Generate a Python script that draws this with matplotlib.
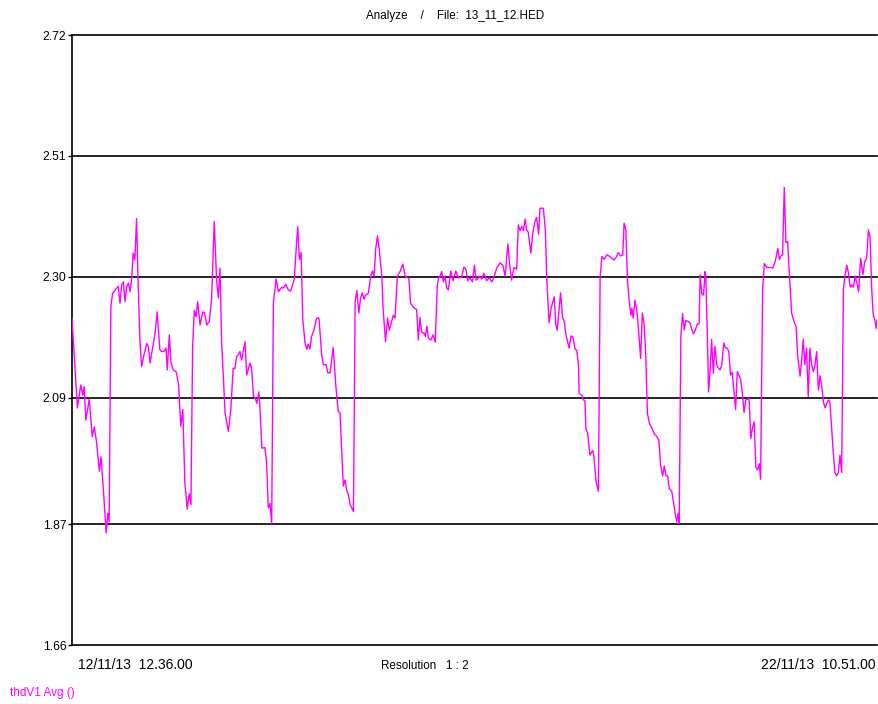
import matplotlib
matplotlib.use("Agg")
import matplotlib.pyplot as plt
import numpy as np

plt.rcParams["font.family"] = ["Liberation Sans", "DejaVu Sans"]

# hours since 12/11/13 12.36.00 (end 22/11/13 10.51.00 = 238.25 h)
hours = [
    0.0, 1.6, 2.6, 3.2, 3.6, 4.1, 5.1, 6.0, 6.6, 7.3, 8.1, 8.6, 9.3, 10.1, 10.6, 11.0,
    11.5, 12.0, 13.2, 13.7, 14.2, 14.7, 15.2, 15.7, 16.2, 16.7, 17.2, 17.7, 18.1, 18.6,
    19.1, 19.6, 20.1, 20.6, 21.3, 22.1, 22.6, 23.1, 23.9, 24.6, 25.2, 26.0, 26.5, 27.2,
    27.8, 28.2, 28.8, 29.3, 30.0, 30.8, 31.5, 32.2, 32.8, 33.4, 34.1, 34.7, 35.2, 35.7,
    36.2, 36.7, 37.2, 37.9, 38.7, 39.2, 39.9, 40.6, 41.3, 42.1, 42.8, 43.3, 43.8, 44.3,
    44.6, 45.3, 46.3, 47.0, 47.7, 48.2, 48.7, 49.2, 49.7, 50.2, 51.2, 51.7, 52.7, 53.2,
    53.7, 54.2, 54.7, 55.3, 55.6, 56.2, 57.1, 57.6, 58.1, 58.6, 59.1, 59.6, 60.4, 61.1,
    62.1, 62.5, 63.3, 64.0, 64.7, 65.8, 66.2, 66.8, 67.3, 67.8, 68.3, 69.0, 69.5, 69.9,
    70.4, 70.9, 71.6, 72.4, 73.1, 73.9, 74.4, 75.2, 75.7, 76.4, 77.3, 78.1, 78.8, 79.3,
    80.3, 80.8, 81.3, 81.8, 82.3, 83.3, 83.8, 84.3, 84.9, 85.4, 85.9, 86.4, 86.9, 87.7,
    88.4, 88.9, 89.4, 89.9, 90.4, 90.9, 91.7, 92.1, 92.8, 93.4, 93.9, 94.6, 95.1, 95.6,
    96.3, 97.1, 97.9, 98.6, 99.7, 100.2, 101.0, 102.0, 102.5, 103.0, 103.5, 104.2, 104.6,
    105.0, 105.5, 106.2, 106.9, 107.5, 108.1, 108.5, 108.9, 109.4, 109.9, 110.4, 110.9,
    111.4, 112.1, 112.8, 113.6, 114.3, 115.3, 116.0, 116.6, 117.1, 117.8, 118.5, 119.1,
    119.6, 120.1, 120.5, 121.3, 121.9, 122.7, 123.5, 124.2, 124.7, 125.7, 126.7, 127.5,
    128.2, 129.0, 129.6, 130.1, 130.8, 131.6, 132.1, 132.6, 133.1, 133.6, 134.1, 134.6,
    135.0, 135.8, 136.4, 137.0, 137.5, 138.1, 138.5, 139.5, 140.1, 140.5, 141.2, 141.8,
    142.7, 143.2, 143.6, 144.6, 145.2, 145.6, 146.2, 147.1, 147.7, 148.2, 148.9, 149.4,
    149.9, 150.1, 150.9, 151.3, 151.8, 152.1, 152.6, 153.3, 154.1, 154.5, 155.1, 155.8,
    156.3, 156.8, 157.5, 158.3, 159.2, 160.4, 161.0, 161.7, 162.4, 163.0, 163.4, 163.9,
    164.4, 164.9, 165.4, 165.7, 166.1, 166.6, 167.1, 167.6, 168.3, 168.8, 169.3, 169.8,
    170.3, 170.9, 171.6, 172.3, 173.0, 173.7, 174.2, 174.8, 175.3, 175.8, 176.3, 176.8,
    177.5, 178.0, 178.5, 179.0, 179.4, 179.7, 180.2, 180.7, 181.2, 181.7, 182.4, 182.9,
    183.4, 183.9, 184.4, 185.1, 185.6, 185.9, 186.4, 186.9, 187.4, 187.6, 188.0, 188.4,
    188.8, 189.3, 189.8, 190.3, 190.8, 191.3, 191.8, 192.3, 192.9, 193.4, 193.9, 194.4,
    194.9, 195.4, 195.9, 196.4, 196.9, 197.4, 197.9, 198.4, 198.9, 199.4, 199.9, 200.4,
    200.9, 201.4, 201.9, 202.4, 202.9, 203.4, 203.8, 204.4, 204.9, 205.6, 206.6, 207.4,
    208.1, 208.9, 209.4, 209.8, 210.3, 210.8, 211.3, 211.8, 212.3, 213.0, 213.7, 214.3,
    214.8, 215.5, 216.0, 216.4, 216.9, 217.4, 217.9, 218.4, 218.9, 219.4, 219.9, 220.4,
    220.9, 221.4, 221.9, 222.4, 222.9, 223.4, 223.9, 224.3, 224.8, 225.3, 225.8, 226.3,
    226.8, 227.3, 227.8, 228.3, 228.8, 229.3, 229.8, 230.3, 230.8, 231.3, 231.8, 232.3,
    232.8, 233.4, 234.1, 234.6, 235.2, 235.7, 236.2, 236.7, 237.1, 237.6, 238.0, 238.25,
]

thd = [
    2.228, 2.072, 2.112, 2.094, 2.109, 2.051, 2.087, 2.022, 2.039, 2.011, 1.962, 1.987, 1.929, 1.855, 1.889, 1.874,
    2.248, 2.271, 2.280, 2.283, 2.254, 2.286, 2.291, 2.257, 2.283, 2.289, 2.274, 2.300, 2.341, 2.329,
    2.401, 2.283, 2.190, 2.144, 2.164, 2.184, 2.178, 2.150, 2.178, 2.202, 2.239, 2.173, 2.170, 2.170,
    2.176, 2.138, 2.199, 2.150, 2.138, 2.135, 2.115, 2.040, 2.069, 1.942, 1.896, 1.923, 1.904, 2.178,
    2.242, 2.230, 2.257, 2.216, 2.239, 2.237, 2.216, 2.222, 2.259, 2.396, 2.294, 2.263, 2.315, 2.184,
    2.150, 2.063, 2.031, 2.069, 2.141, 2.140, 2.161, 2.164, 2.170, 2.155, 2.187, 2.129, 2.150, 2.138,
    2.092, 2.090, 2.080, 2.100, 2.074, 2.002, 2.003, 1.976, 1.898, 1.906, 1.871, 2.254, 2.296, 2.274,
    2.282, 2.280, 2.287, 2.277, 2.275, 2.296, 2.335, 2.387, 2.330, 2.342, 2.225, 2.184, 2.174, 2.183,
    2.174, 2.196, 2.207, 2.228, 2.228, 2.164, 2.147, 2.147, 2.133, 2.133, 2.177, 2.109, 2.066, 2.064,
    1.936, 1.947, 1.929, 1.921, 1.904, 1.892, 2.257, 2.276, 2.237, 2.263, 2.272, 2.261, 2.268, 2.271,
    2.300, 2.310, 2.301, 2.349, 2.371, 2.349, 2.300, 2.242, 2.187, 2.228, 2.207, 2.222, 2.233, 2.228,
    2.301, 2.309, 2.322, 2.301, 2.297, 2.254, 2.247, 2.243, 2.190, 2.229, 2.203, 2.202, 2.196,
    2.214, 2.193, 2.190, 2.199, 2.186, 2.283, 2.299, 2.299, 2.309, 2.291, 2.301, 2.280,
    2.277, 2.310, 2.293, 2.310, 2.298, 2.299, 2.317, 2.313, 2.293, 2.298, 2.291, 2.320,
    2.294, 2.296, 2.301, 2.296, 2.306, 2.293, 2.298, 2.291, 2.296, 2.315, 2.324, 2.320,
    2.301, 2.357, 2.317, 2.294, 2.316, 2.313, 2.390, 2.380, 2.387, 2.380, 2.400, 2.380,
    2.378, 2.341, 2.377, 2.396, 2.403, 2.374, 2.419, 2.419, 2.381, 2.297, 2.220, 2.245,
    2.265, 2.216, 2.207, 2.272, 2.228, 2.224, 2.199, 2.176, 2.197, 2.196, 2.174, 2.172,
    2.147, 2.097, 2.094, 2.086, 2.085, 2.035, 2.028, 1.990, 1.998, 1.987, 1.944, 1.927,
    2.297, 2.335, 2.330, 2.338, 2.335, 2.329, 2.333, 2.342, 2.336, 2.338, 2.393, 2.382,
    2.294, 2.259, 2.233, 2.245, 2.228, 2.259, 2.245, 2.213, 2.158, 2.237, 2.219, 2.167,
    2.063, 2.045, 2.037, 2.027, 2.023, 2.016, 1.973, 1.954, 1.971, 1.954, 1.954, 1.931,
    1.927, 1.909, 1.889, 1.874, 1.889, 1.871, 2.196, 2.236, 2.207, 2.224, 2.222, 2.220,
    2.209, 2.201, 2.206, 2.218, 2.218, 2.303, 2.271, 2.268, 2.309, 2.297, 2.207, 2.100,
    2.132, 2.191, 2.132, 2.179, 2.147, 2.141, 2.138, 2.147, 2.185, 2.176, 2.176, 2.170,
    2.129, 2.134, 2.103, 2.069, 2.135, 2.129, 2.121, 2.097, 2.064, 2.086, 2.087, 2.089,
    2.019, 2.037, 2.048, 1.969, 1.964, 1.975, 1.948, 2.277, 2.323, 2.316, 2.316, 2.315,
    2.326, 2.349, 2.330, 2.336, 2.338, 2.455, 2.359, 2.361, 2.306, 2.236, 2.222, 2.213,
    2.161, 2.127, 2.158, 2.191, 2.147, 2.176, 2.092, 2.176, 2.147, 2.135, 2.147, 2.170,
    2.103, 2.128, 2.109, 2.082, 2.072, 2.080, 2.086, 2.083, 2.040, 1.995, 1.960, 1.954,
    1.959, 1.990, 1.960, 2.277, 2.303, 2.320, 2.306, 2.282, 2.286, 2.282, 2.301, 2.289,
    2.274, 2.332, 2.304, 2.326, 2.332, 2.381, 2.369, 2.277, 2.236, 2.225, 2.210, 2.225,
]

yticks = [1.66, 1.87, 2.09, 2.30, 2.51, 2.72]
start_label = "12/11/13  12.36.00"
end_label = "22/11/13  10.51.00"

fig = plt.figure(figsize=(8.79, 7.04), dpi=100)
ax = fig.add_axes([72 / 879, 59 / 704, 805 / 879, 610 / 704])

for yv in yticks:
    ax.axhline(yv, color="black", lw=1.2, zorder=1, clip_on=False)
ax.plot(hours, thd, color="#ff00ff", lw=1.0, zorder=3)

ax.set_xlim(0, 238.25)
ax.set_ylim(1.66, 2.72)
ax.set_yticks(yticks)
ax.set_yticklabels([f"{v:.2f}" for v in yticks])
ax.set_xticks([])
for side in ["top", "right", "bottom"]:
    ax.spines[side].set_visible(False)
ax.spines["left"].set_linewidth(1.2)
ax.tick_params(axis="y", length=3, width=1, pad=1, labelsize=8.7, colors="black")

fig.text(455 / 879, 1 - 16 / 704, "Analyze    /    File:  13_11_12.HED",
         ha="center", va="center", fontsize=8.4)
fig.text(78 / 879, 1 - 665 / 704, start_label, ha="left", va="center", fontsize=10)
fig.text(425 / 879, 1 - 666 / 704, "Resolution   1 : 2", ha="center", va="center", fontsize=8.4)
fig.text(876 / 879, 1 - 665 / 704, end_label, ha="right", va="center", fontsize=10)
fig.text(10 / 879, 1 - 693 / 704, "thdV1 Avg ()", ha="left", va="center",
         fontsize=8.5, color="#ff00ff")

fig.savefig("out.png", dpi=100)
